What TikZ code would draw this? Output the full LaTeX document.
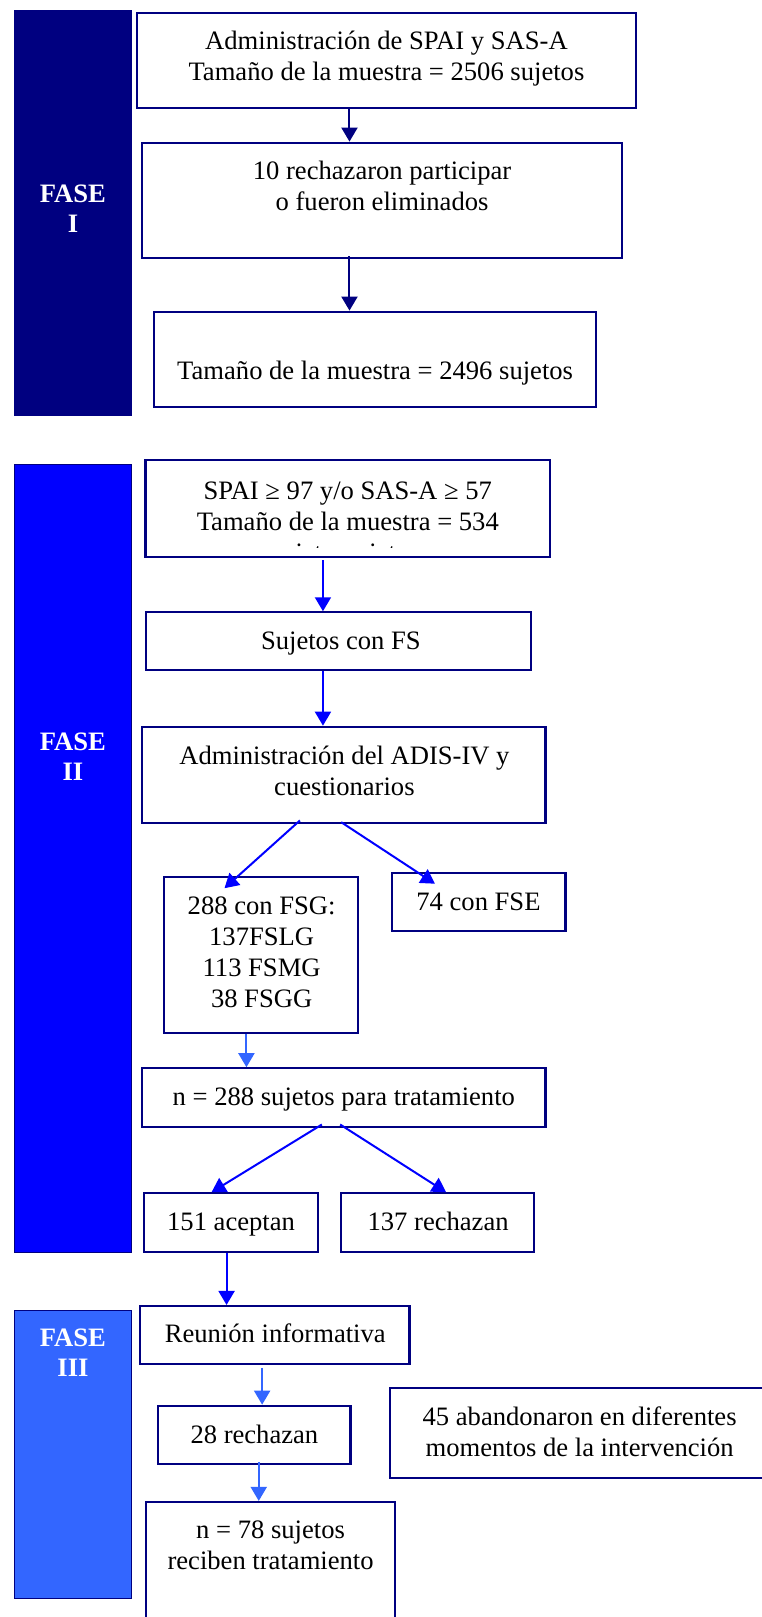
\documentclass[tikz,border=0pt]{standalone}
\usepackage{fontspec}
\setmainfont{Liberation Serif}
\usetikzlibrary{arrows.meta,calc}

\definecolor{navyline}{RGB}{0,0,128}
\definecolor{faseone}{RGB}{0,0,128}
\definecolor{fasetwo}{RGB}{0,0,255}
\definecolor{fasethree}{RGB}{51,102,255}

\tikzset{
  box/.style={draw=navyline, line width=2.2pt, fill=white, inner sep=0pt, rectangle},
  bar/.style={draw=navyline, line width=1pt, inner sep=0pt, rectangle},
  % multi-line texts sit on the baseline of their last line
  txt/.style={inner sep=0pt, align=center, text=black, anchor=base,
              font=\fontsize{26.6}{31}\selectfont},
  fasetxt/.style={inner sep=0pt, align=center, text=white, anchor=base,
              font=\fontsize{26.6}{30}\selectfont\bfseries},
  link/.style={line width=2pt, -{Triangle[length=14pt,width=16pt]}},
}

\begin{document}
\begin{tikzpicture}[x=0.9937pt,y=-1pt]
\clip (0,0) rectangle (766.83,1617);
\fill[white] (0,0) rectangle (766.83,1617);

% phase bars
\node[bar, fill=faseone,   minimum width=116.3pt, minimum height=405pt]   (F1) at (73.4,212.5) {};
\node[bar, fill=fasetwo,   minimum width=116.3pt, minimum height=788.3pt] (F2) at (73.4,858.2) {};
\node[bar, fill=fasethree, minimum width=116.3pt, minimum height=288.3pt] (F3) at (73.4,1454.2) {};
\node[fasetxt] (F1t) at (73.4,232.5) {FASE\\I};
\node[fasetxt] (F2t) at (73.4,780) {FASE\\II};
\node[fasetxt] (F3t) at (73.4,1376) {FASE\\III};

% phase I boxes
\node[box, minimum width=499pt,   minimum height=95.3pt] (A1) at (388.9,60.35) {};
\node[box, minimum width=480pt,   minimum height=115pt]  (A2) at (384.5,200.2) {};
\node[box, minimum width=442.2pt, minimum height=95.6pt] (A3) at (377.5,359.5) {};
\node[txt] (A1t) at (388.9,80.7) {Administración de SPAI y SAS-A\\Tamaño de la muestra = 2506 sujetos};
\node[txt] (A2t) at (384.5,210.7) {10 rechazaron participar\\o fueron eliminados};
\node[txt] (A3t) at (377.5,379) {Tamaño de la muestra = 2496 sujetos};

% phase II boxes
\node[box, minimum width=404.4pt, minimum height=97pt]   (B1) at (350,508.5) {};
\node[box, minimum width=385pt,   minimum height=57.7pt] (B2) at (340.3,641.2) {};
\node[box, minimum width=403.8pt, minimum height=96.3pt] (B3) at (345.8,774.9) {};
\node[box, minimum width=194.3pt, minimum height=156pt]  (C1) at (262.8,955.3) {};
\node[box, minimum width=173.2pt, minimum height=57.4pt] (C2) at (481.9,902) {};
\node[box, minimum width=403.8pt, minimum height=58.4pt] (D)  at (345.8,1097.5) {};
\node[box, minimum width=173.9pt, minimum height=59pt]   (E1) at (232.5,1222.8) {};
\node[box, minimum width=192.8pt, minimum height=59pt]   (E2) at (440.4,1222.8) {};

\node[txt] (B1t) at (350,530) {SPAI ≥ 97 y/o SAS-A ≥ 57\\Tamaño de la muestra = 534};
\begin{scope}
  % the wrapped last line is cut off by the box: only its top shows
  \clip (148,462) rectangle (552,547);
  \node[txt] (B1c) at (347.7,561) {sujetossujetos};
\end{scope}
\node[txt] (B2t) at (343,649) {Sujetos con FS};
\node[txt] (B3t) at (346.6,795.7) {Administración del ADIS-IV y\\cuestionarios};
\node[txt] (C1t) at (263.3,1007.3) {288 con FSG:\\137FSLG\\113 FSMG\\38 FSGG};
\node[txt] (C2t) at (481.5,910) {74 con FSE};
\node[txt] (Dt)  at (346,1105.7) {n = 288 sujetos para tratamiento};
\node[txt] (E1t) at (232.5,1230.7) {151 aceptan};
\node[txt] (E2t) at (440.9,1230.7) {137 rechazan};

% phase III boxes
\node[box, minimum width=269.3pt, minimum height=58.3pt] (Fb) at (276.5,1335.2) {};
\node[box, minimum width=192.2pt, minimum height=58.3pt] (G)  at (256,1434.9) {};
\node[box, minimum width=248.4pt, minimum height=200pt]  (H)  at (272.3,1602) {};
\node[box, minimum width=378.6pt, minimum height=90pt]   (I)  at (583.3,1433) {};
\node[txt] (Fbt) at (277,1342.3) {Reunión informativa};
\node[txt] (Gt)  at (256,1443.3) {28 rechazan};
\node[txt] (Ht)  at (272.3,1569.3) {n = 78 sujetos\\reciben tratamiento};
\node[txt] (It)  at (583.3,1456.3) {45 abandonaron en diferentes\\momentos de la intervención};

% connectors, phase I
\draw[link, navyline] (351.7,0 |- A1.south) -- (351.7,0 |- A2.north);
\draw[link, navyline] ([yshift=2.5pt]351.7,0 |- A2.south) -- (351.7,0 |- A3.north);

% connectors, phase II
\draw[link, fasetwo] ([yshift=-2pt]325,0 |- B1.south) -- (325,0 |- B2.north);
\draw[link, fasetwo] (325,0 |- B2.south) -- (325,0 |- B3.north);
\draw[link, fasetwo] ($(B3.south west)+(160.3,-3.7)$) -- ($(C1.north west)+(62,12)$);
\draw[link, fasetwo] ($(B3.south west)+(201.8,-2)$) -- ($(C2.north west)+(44,11.5)$);
\draw[link, fasethree] (248,0 |- C1.south) -- (248,0 |- D.north);
\draw[link, fasetwo] ($(D.south west)+(182.4,-3.3)$) -- ($(E1.north west)+(69,0)$);
\draw[link, fasetwo] ($(D.south west)+(200.8,-3.3)$) -- ($(E2.north west)+(106.6,0)$);
\draw[link, fasetwo] (228,0 |- E1.south) -- (228,0 |- Fb.north);

% connectors, phase III
\draw[link, fasethree] ([yshift=-2.4pt]263.8,0 |- Fb.south) -- (263.8,0 |- G.north);
\draw[link, fasethree] ([yshift=3pt]260.4,0 |- G.south) -- (260.4,0 |- H.north);
\end{tikzpicture}
\end{document}
